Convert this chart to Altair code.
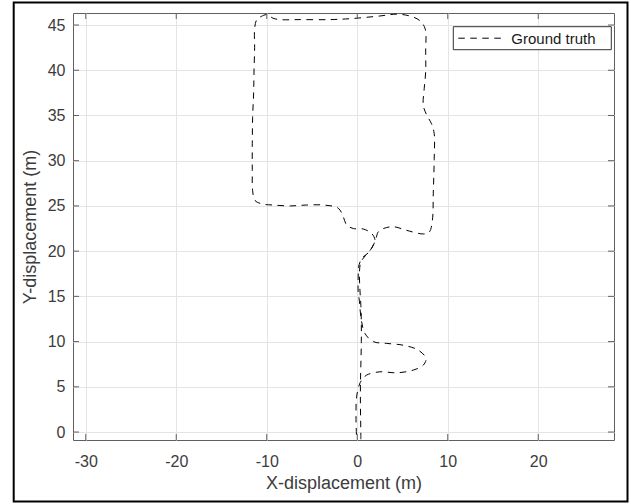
import altair as alt
import pandas as pd

# ---- data ----
path_x = [0.40, 0.38, 0.35, 0.35, 0.40, 0.45, 0.45, 0.40, 0.28, 0.25, 0.40, 0.90, 1.50, 1.90,
          1.95, 1.60, 0.66, -0.44, -1.17, -1.55, -2.10, -3.75, -5.60, -7.40, -9.30, -10.40,
          -11.30, -11.56, -11.60, -11.60, -11.56, -11.45, -11.41, -11.34, -11.34, -11.10, -10.60,
          -10.00, -9.30, -8.54, -6.30, -3.00, -0.80, 2.50, 4.35, 5.80, 6.90, 7.50, 7.56, 7.56,
          7.40, 7.30, 7.70, 8.20, 8.50, 8.50, 8.40, 8.30, 7.95, 7.30, 5.45, 4.00, 2.90, 2.30,
          2.10, 1.75, 1.20, 0.60, 0.20, 0.10, 0.10, 0.22, 0.45, 0.85, 1.77, 3.25, 5.08, 6.74,
          7.60, 7.30, 6.20, 4.35, 2.50, 1.04, 0.49, 0.22, -0.07, -0.14, -0.07]
path_y = [-0.80, 1.00, 3.00, 5.00, 7.50, 10.00, 12.00, 14.00, 16.00, 17.80, 18.80, 19.50, 20.20, 21.00,
          21.30, 21.95, 22.45, 22.50, 22.90, 23.80, 24.75, 25.10, 25.10, 25.00, 25.10, 25.20,
          25.60, 26.70, 29.00, 31.90, 34.80, 37.50, 39.80, 42.50, 44.60, 45.60, 45.95,
          46.15, 45.75, 45.60, 45.60, 45.60, 45.70, 46.00, 46.20, 46.00, 45.50, 44.60, 42.00, 39.80,
          38.00, 36.10, 35.00, 34.10, 33.00, 30.10, 26.40, 23.40, 22.10, 21.90, 22.30, 22.70, 22.50, 22.10,
          21.50, 20.60, 19.80, 19.30, 18.50, 17.00, 15.50, 14.60, 12.40, 10.90, 10.00, 9.80, 9.60, 9.06,
          8.14, 7.40, 6.85, 6.55, 6.66, 6.30, 5.75, 5.20, 3.90, 1.70, -0.80]
series_name = ["Ground truth"]
x_ticks = [-30, -20, -10, 0, 10, 20]
y_ticks = [0, 5, 10, 15, 20, 25, 30, 35, 40, 45]
x_title = "X-displacement (m)"
y_title = "Y-displacement (m)"

# ---- layout ----
W, H = 541, 427
X_DOMAIN = [-31.41, 28.37]
Y_DOMAIN = [-0.88, 46.33]
AX = "#5f5f5f"
TXT = "#3c3c3c"
FONT = "Liberation Sans"
DASH = [6.5, 5.5]

df = pd.DataFrame({"x": path_x, "y": path_y, "order": list(range(len(path_x))),
                   "series": series_name[0]})
xt = pd.DataFrame({"x": x_ticks})
yt = pd.DataFrame({"y": y_ticks})
leg = pd.DataFrame({"series": series_name})

xscale = alt.Scale(domain=X_DOMAIN, nice=False, zero=False)
yscale = alt.Scale(domain=Y_DOMAIN, nice=False, zero=False)
xaxis = alt.Axis(values=x_ticks, title=x_title, grid=True, ticks=False, domain=False,
                 labelExpr="'' + datum.value",
                 labelPadding=13, titleX=W / 2, titleY=48.3, titleBaseline="alphabetic")
yaxis = alt.Axis(values=y_ticks, title=y_title, grid=True, ticks=False, domain=False,
                 labelExpr="'' + datum.value",
                 labelPadding=8, titleX=-38, titleY=H / 2, titleBaseline="alphabetic")

line = alt.Chart(df).mark_line(
    color="black", strokeWidth=1, strokeDash=DASH, interpolate="catmull-rom", clip=True
).encode(
    x=alt.X("x:Q", scale=xscale, axis=xaxis),
    y=alt.Y("y:Q", scale=yscale, axis=yaxis),
    order="order:Q",
)

tick_left = alt.Chart(yt).mark_rule(color=AX, strokeWidth=1).encode(
    y=alt.Y("y:Q", scale=yscale, axis=yaxis), x=alt.value(0), x2=alt.value(6))
tick_right = alt.Chart(yt).mark_rule(color=AX, strokeWidth=1).encode(
    y=alt.Y("y:Q", scale=yscale, axis=yaxis), x=alt.value(W - 6), x2=alt.value(W))
tick_bottom = alt.Chart(xt).mark_rule(color=AX, strokeWidth=1).encode(
    x=alt.X("x:Q", scale=xscale, axis=xaxis), y=alt.value(H - 6), y2=alt.value(H))
tick_top = alt.Chart(xt).mark_rule(color=AX, strokeWidth=1).encode(
    x=alt.X("x:Q", scale=xscale, axis=xaxis), y=alt.value(0), y2=alt.value(6))

# legend (box, dashed sample, label)
leg_box = alt.Chart(leg).mark_rect(fill="white", stroke="#333333", strokeWidth=1).encode(
    x=alt.value(380.3), x2=alt.value(538.3), y=alt.value(13.7), y2=alt.value(36.7))
leg_line = alt.Chart(leg).mark_rule(color="black", strokeWidth=1, strokeDash=DASH).encode(
    x=alt.value(385.3), x2=alt.value(431.3), y=alt.value(25.2))
leg_text = alt.Chart(leg).mark_text(
    align="left", baseline="middle", fontSize=15, font=FONT, color="#1a1a1a"
).encode(x=alt.value(438.3), y=alt.value(25.6), text="series:N")

# outer figure border
border = alt.Chart(leg).mark_rect(filled=False, stroke="black", strokeWidth=2).encode(
    x=alt.value(-59.3), x2=alt.value(554.5), y=alt.value(-10.5), y2=alt.value(488.5))

chart = alt.layer(
    line, tick_left, tick_right, tick_bottom, tick_top, leg_box, leg_line, leg_text, border
).properties(
    width=W, height=H,
    autosize=alt.AutoSizeParams(type="none"),
    padding={"left": 73, "top": 13, "right": 17, "bottom": 64},
    background="white",
).configure_view(
    stroke=AX, strokeWidth=1
).configure_axis(
    labelFont=FONT, titleFont=FONT, labelFontSize=16, titleFontSize=18,
    labelColor=TXT, titleColor=TXT, titleFontWeight="normal",
    gridColor="#e4e4e4", gridWidth=1,
)

chart.save("out.html", embed_options={"renderer": "svg", "actions": False})
